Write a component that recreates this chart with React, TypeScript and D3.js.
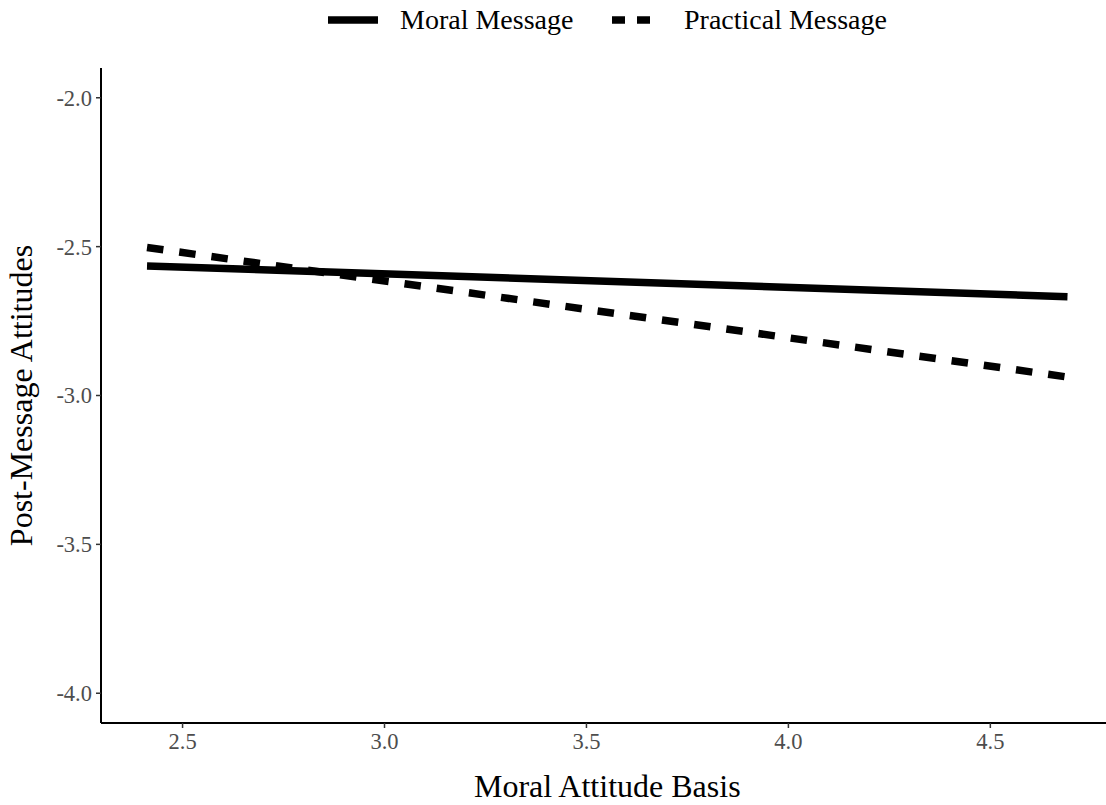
import React from "react";
import * as d3 from "d3";

const xEnds = [2.412, 4.691];
const moralValues = [-2.565, -2.668];
const practicalValues = [-2.503, -2.938];
const xTicks = [2.5, 3.0, 3.5, 4.0, 4.5];
const yTicks = [-4.0, -3.5, -3.0, -2.5, -2.0];
const seriesNames = ["Moral Message", "Practical Message"];

const W = 1106;
const H = 805;
const FONT = "'Liberation Serif', 'Times New Roman', serif";

const fmt = (v: number) => d3.format(".1f")(v).replace("\u2212", "-");

export default function App() {
  const left = 101;
  const top = 68;
  const bottom = 723;
  const right = 1113.5;

  const xr = xEnds[1] - xEnds[0];
  const x = d3.scaleLinear().domain([xEnds[0] - 0.05 * xr, xEnds[1] + 0.05 * xr]).range([left, right]);
  const y = d3.scaleLinear().domain([-4.1, -1.9]).range([bottom, top]);

  const line = d3
    .line<[number, number]>()
    .x((d) => x(d[0]))
    .y((d) => y(d[1]));

  const moralPts: [number, number][] = xEnds.map((v, i) => [v, moralValues[i]]);
  const practPts: [number, number][] = xEnds.map((v, i) => [v, practicalValues[i]]);

  const lw = 7.5;
  const dash = "16.5 16";

  return (
    <svg
      width={W}
      height={H}
      style={{ position: "absolute", left: 0, top: 0, background: "#fff" }}
      fontFamily={FONT}
    >
      <rect x={0} y={0} width={W} height={H} fill="#fff" />
      <line x1={left} x2={left} y1={top} y2={bottom} stroke="#000" strokeWidth={2} />
      <line x1={left} x2={right} y1={bottom} y2={bottom} stroke="#000" strokeWidth={2} />
      {yTicks.map((t) => (
        <g key={"y" + t}>
          <line x1={left - 5} x2={left} y1={y(t)} y2={y(t)} stroke="#333" strokeWidth={1.5} />
          <text x={left - 9} y={y(t)} dy="0.35em" textAnchor="end" fontSize={22.5} fill="#4d4d4d">
            {fmt(t)}
          </text>
        </g>
      ))}
      {xTicks.map((t) => (
        <g key={"x" + t}>
          <line x1={x(t)} x2={x(t)} y1={bottom} y2={bottom + 5} stroke="#333" strokeWidth={1.5} />
          <text x={x(t)} y={bottom + 26} textAnchor="middle" fontSize={22.5} fill="#4d4d4d">
            {fmt(t)}
          </text>
        </g>
      ))}
      <path d={line(moralPts) || ""} fill="none" stroke="#000" strokeWidth={lw} />
      <path d={line(practPts) || ""} fill="none" stroke="#000" strokeWidth={lw} strokeDasharray={dash} />
      <text x={(left + right) / 2} y={797} textAnchor="middle" fontSize={32} fill="#000">
        Moral Attitude Basis
      </text>
      <text
        transform={`translate(32, ${(top + bottom) / 2}) rotate(-90)`}
        textAnchor="middle"
        fontSize={32}
        fill="#000"
      >
        Post-Message Attitudes
      </text>
      <g>
        <line x1={328} x2={378} y1={20} y2={20} stroke="#000" strokeWidth={lw} />
        <text x={400} y={29} fontSize={28} fill="#000">
          {seriesNames[0]}
        </text>
        <line x1={612} x2={662} y1={20} y2={20} stroke="#000" strokeWidth={lw} strokeDasharray="13 12" />
        <text x={684} y={29} fontSize={28} fill="#000">
          {seriesNames[1]}
        </text>
      </g>
    </svg>
  );
}
